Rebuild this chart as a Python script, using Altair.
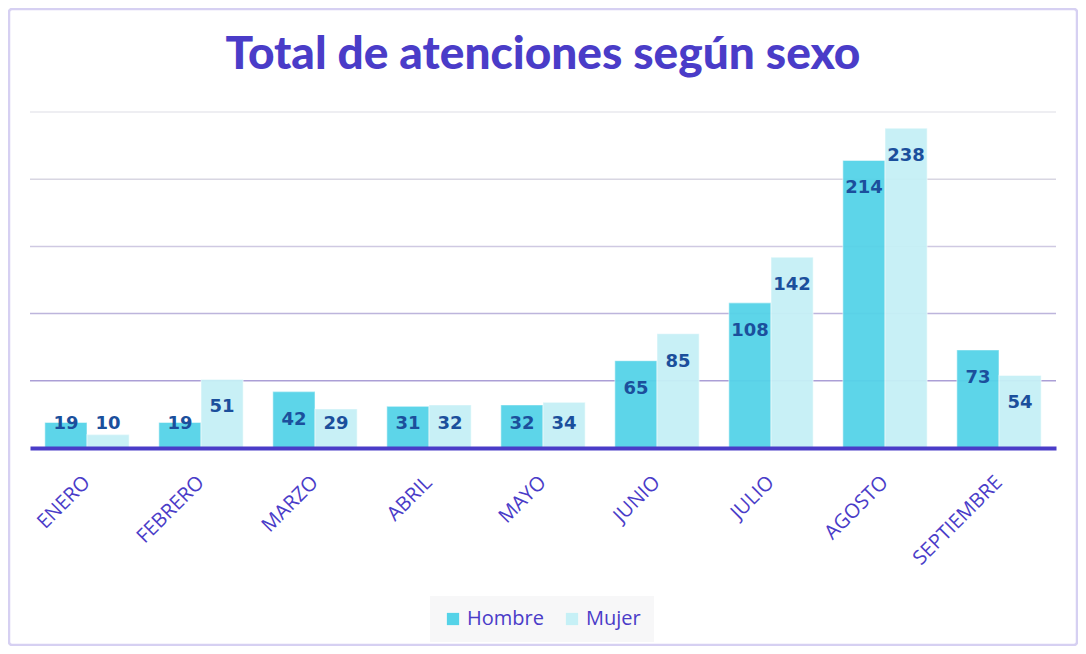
import altair as alt
import pandas as pd

titulo = "Total de atenciones según sexo"
meses = ["ENERO", "FEBRERO", "MARZO", "ABRIL", "MAYO", "JUNIO", "JULIO", "AGOSTO", "SEPTIEMBRE"]
hombre = [19, 19, 42, 31, 32, 65, 108, 214, 73]
mujer = [10, 51, 29, 32, 34, 85, 142, 238, 54]
series = ["Hombre", "Mujer"]
series_colors = ["#55d3e8", "#c6f0f6"]
grid_vals = [50, 100, 150, 200, 250]
grid_colors = ["#ab9fd6", "#bdb5dc", "#cfc9e2", "#d8d6e2", "#e8e8ee"]

rows = []
for m, h, w in zip(meses, hombre, mujer):
    rows.append({"mes": m, "sexo": "Hombre", "valor": h})
    rows.append({"mes": m, "sexo": "Mujer", "valor": w})
df = pd.DataFrame(rows)
grid = pd.DataFrame({"v": grid_vals, "c": grid_colors})

PURPLE = "#4a3cc8"

yscale = alt.Scale(domain=[0, 250], nice=False)

frame = alt.Chart(pd.DataFrame({"k": [0]})).mark_rect(
    fill="white", fillOpacity=0, stroke="#d6d0f2", strokeWidth=2.5, cornerRadius=3
).encode(
    x=alt.value(-21), x2=alt.value(1026 + 21),
    y=alt.value(-103), y2=alt.value(336 + 197),
)

title_mark = alt.Chart(pd.DataFrame({"t": [titulo]})).mark_text(
    font="Lato", fontSize=46, fontWeight=900, color=PURPLE,
    align="center", baseline="alphabetic",
).encode(
    x=alt.value(513), y=alt.value(-43), text="t:N",
)

rules = alt.Chart(grid).mark_rule(strokeWidth=1.5).encode(
    y=alt.Y("v:Q", scale=yscale, axis=None),
    stroke=alt.Stroke("c:N", scale=None, legend=None),
)

x_enc = alt.X(
    "mes:N", sort=meses, title=None,
    scale=alt.Scale(paddingInner=0.26, paddingOuter=0.13),
    axis=alt.Axis(
        labelAngle=-45, labelAlign="right", labelBaseline="middle",
        labelColor=PURPLE, labelFont="Open Sans", labelFontSize=20,
        labelPadding=31, labelLimit=400, ticks=False, domainColor=PURPLE,
        domainWidth=4, grid=False, zindex=1,
    ),
)

bars = alt.Chart(df).mark_bar(
    strokeWidth=1.2, opacity=0.95, stroke="white", strokeOpacity=0.45
).encode(
    x=x_enc,
    xOffset=alt.XOffset("sexo:N", sort=series),
    y=alt.Y("valor:Q", scale=yscale, axis=None),
    color=alt.Color(
        "sexo:N", scale=alt.Scale(domain=series, range=series_colors),
        legend=alt.Legend(
            title=None, orient="none", direction="horizontal",
            legendX=400, legendY=484, fillColor="#f7f7f8", padding=13,
            symbolType="square", symbolSize=150, symbolStrokeWidth=0,
            symbolOpacity=1,
            labelColor=PURPLE, labelFont="Open Sans", labelFontSize=20,
            columnPadding=18,
        ),
    ),
)

labels = alt.Chart(df).transform_calculate(
    ly="max(datum.valor - 20.8, 17.9)"
).mark_text(
    font="DejaVu Sans", fontWeight="bold", fontSize=18, color="#1b4f9c",
    baseline="middle", align="center",
).encode(
    x=alt.X("mes:N", sort=meses),
    xOffset=alt.XOffset("sexo:N", sort=series),
    y=alt.Y("ly:Q", scale=yscale),
    text=alt.Text("valor:Q"),
)

chart = alt.layer(frame, title_mark, rules, bars, labels).properties(
    width=1026,
    height=336,
    background="white",
    autosize=alt.AutoSizeParams(type="none"),
    padding={"left": 22, "top": 104, "right": 22, "bottom": 198},
).configure_view(stroke=None)

chart.save("out.html", embed_options={"renderer": "svg", "actions": False})
